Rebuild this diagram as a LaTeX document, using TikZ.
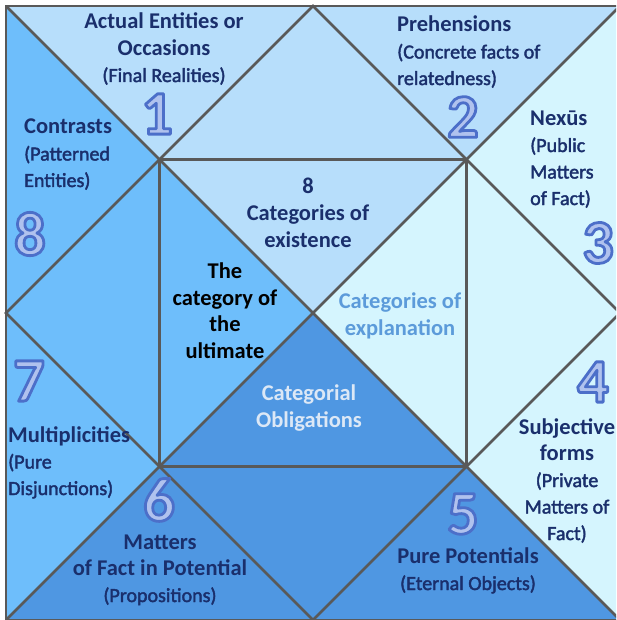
\documentclass[tikz,border=0pt]{standalone}
\usepackage{fontspec}
\setmainfont{Carlito}
\newfontfamily\parfam[FakeBold=2]{Carlito}
\definecolor{cLight}{HTML}{B7DEFB}
\definecolor{cPale}{HTML}{D5F5FE}
\definecolor{cMed}{HTML}{4F97E2}
\definecolor{cSky}{HTML}{6EBEFB}
\definecolor{cLine}{HTML}{595959}
\definecolor{cNavy}{HTML}{1A2F6C}
\definecolor{cExpl}{HTML}{5C9BDA}
\definecolor{cObl}{HTML}{DCE8F6}
\definecolor{numFill}{HTML}{B0C2EE}
\newcommand\ps{\fontsize{20}{26.5}\selectfont\parfam\mdseries}
% outlined digit: fill + stroke text rendering mode
\newcommand\outl[1]{\textcolor{numFill}{\special{pdf:literal direct 2 Tr 2.8 w 1 j 0.298 0.435 0.788 RG}#1\special{pdf:literal direct 0 Tr}}}
\tikzset{
  lbl/.style={inner sep=0pt, text=cNavy, font=\fontsize{22.5}{26.5}\selectfont\bfseries},
  digit/.style={inner sep=0pt, font=\fontsize{62}{62}\selectfont\bfseries},
  edgeline/.style={draw=cLine, line width=2.8pt}
}
\begin{document}
\begin{tikzpicture}[x=1pt,y=-1pt]
\useasboundingbox (0,0) rectangle (616,620);
\clip (0,0) rectangle (616,620);
\fill[white] (0,0) rectangle (616,620);
% key points
\coordinate (TL) at (6,6);
\coordinate (TR) at (620,6);
\coordinate (BR) at (620,620);
\coordinate (BL) at (6,620);
\coordinate (T) at (313,6);
\coordinate (R) at (620,313);
\coordinate (B) at (313,620);
\coordinate (L) at (6,313);
\coordinate (C) at (313,313);
\coordinate (Q1) at (159.5,159.5);
\coordinate (Q2) at (466.5,159.5);
\coordinate (Q3) at (466.5,466.5);
\coordinate (Q4) at (159.5,466.5);
% fills
\fill[cLight] (T) -- (TL) -- (Q1) -- cycle;
\fill[cLight] (T) -- (Q1) -- (Q2) -- cycle;
\fill[cLight] (T) -- (TR) -- (Q2) -- cycle;
\fill[cLight] (Q1) -- (Q2) -- (C) -- cycle;
\fill[cPale] (TR) -- (Q2) -- (R) -- cycle;
\fill[cPale] (Q2) -- (R) -- (Q3) -- cycle;
\fill[cPale] (R) -- (Q3) -- (BR) -- cycle;
\fill[cPale] (Q2) -- (Q3) -- (C) -- cycle;
\fill[cMed] (BR) -- (Q3) -- (B) -- cycle;
\fill[cMed] (Q3) -- (Q4) -- (B) -- cycle;
\fill[cMed] (B) -- (Q4) -- (BL) -- cycle;
\fill[cMed] (Q4) -- (Q3) -- (C) -- cycle;
\fill[cSky] (BL) -- (Q4) -- (L) -- cycle;
\fill[cSky] (L) -- (Q4) -- (Q1) -- cycle;
\fill[cSky] (L) -- (Q1) -- (TL) -- cycle;
\fill[cSky] (Q1) -- (Q4) -- (C) -- cycle;
% lines
\draw[edgeline] (TL) rectangle (BR);
\draw[edgeline] (T) -- (R) -- (B) -- (L) -- cycle;
\draw[edgeline] (TL) -- (BR);
\draw[edgeline] (TR) -- (BL);
\draw[edgeline] (Q1) rectangle (Q3);
% outer labels (anchor = baseline of last line)
\node[lbl, align=center, anchor=base] (l1) at (164,82) {Actual Entities or\\Occasions\\{\ps(Final Realities)}};
\node[lbl, align=left, anchor=base west] (l2) at (397,85) {Prehensions\\{\ps(Concrete facts of}\\{\ps relatedness)}};
\node[lbl, align=left, anchor=base west] (l3) at (530,205) {Nexūs\\{\ps(Public}\\{\ps Matters}\\{\ps of Fact)}};
\node[lbl, align=center, anchor=base] (l4) at (567,540) {Subjective\\forms\\{\ps(Private}\\{\ps Matters of}\\{\ps Fact)}};
\node[lbl, align=center, anchor=base] (l5) at (468,590) {Pure Potentials\\{\ps(Eternal Objects)}};
\node[lbl, align=center, anchor=base] (l6) at (160,602) {Matters\\of Fact in Potential\\{\ps(Propositions)}};
\node[lbl, align=left, anchor=base west] (l7) at (8,495) {Multiplicities\\{\ps(Pure}\\{\ps Disjunctions)}};
\node[lbl, align=left, anchor=base west] (l8) at (24,187) {Contrasts\\{\ps(Patterned}\\{\ps Entities)}};
% centre labels
\node[lbl, align=center, anchor=base] (ce) at (308,247) {8\\Categories of\\existence};
\node[lbl, align=center, anchor=base, text=black] (cu) at (225,358) {The\\category of\\the\\ultimate};
\node[lbl, align=center, anchor=base, text=cExpl] (cx) at (400,335) {Categories of\\explanation};
\node[lbl, align=center, anchor=base, text=cObl] (co) at (309,427) {Categorial\\Obligations};
% digits
\node[digit] (d1) at (157,114) {\outl{1}};
\node[digit] (d2) at (463,117) {\outl{2}};
\node[digit] (d3) at (598,243) {\outl{3}};
\node[digit] (d4) at (593,382) {\outl{4}};
\node[digit] (d5) at (463,514) {\outl{5}};
\node[digit] (d6) at (159,500) {\outl{6}};
\node[digit] (d7) at (29,381) {\outl{7}};
\node[digit] (d8) at (30,234) {\outl{8}};
\end{tikzpicture}
\end{document}
